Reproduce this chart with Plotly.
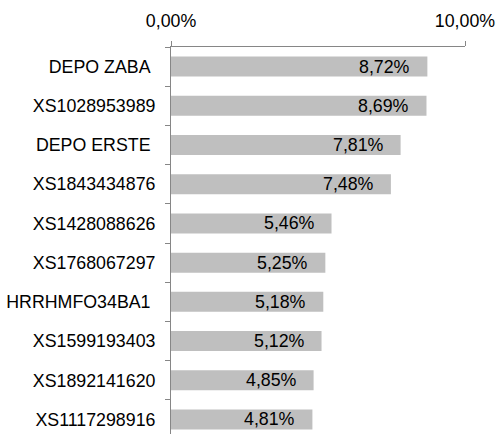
import plotly.graph_objects as go

categories = ["DEPO ZABA", "XS1028953989", "DEPO ERSTE", "XS1843434876", "XS1428088626",
              "XS1768067297", "HRRHMFO34BA1", "XS1599193403", "XS1892141620", "XS1117298916"]
values = [0.0872, 0.0869, 0.0781, 0.0748, 0.0546, 0.0525, 0.0518, 0.0512, 0.0485, 0.0481]
labels = ["8,72%", "8,69%", "7,81%", "7,48%", "5,46%", "5,25%", "5,18%", "5,12%", "4,85%", "4,81%"]
# category tick texts (three of them carry a trailing space in the source)
tick_texts = ["DEPO ZABA\u00a0", "XS1028953989", "DEPO ERSTE\u00a0", "XS1843434876", "XS1428088626",
              "XS1768067297", "HRRHMFO34BA1\u00a0", "XS1599193403", "XS1892141620", "XS1117298916"]
x_ticks = [0.0, 0.1]

FONT = "Liberation Sans, Arial, sans-serif"
FS = 17.8

fig = go.Figure()
fig.add_trace(go.Bar(
    y=categories, x=values, orientation="h",
    marker=dict(color="#bfbfbf", line=dict(width=0)),
    hoverinfo="skip",
))

for c, v, t in zip(categories, values, labels):
    fig.add_annotation(x=v, y=c, text=t, showarrow=False, xanchor="right",
                       xshift=-15, font=dict(family=FONT, size=FS, color="#000000"))

fig.update_layout(
    template="none",
    width=497, height=434,
    margin=dict(l=171, r=32, t=47, b=0, pad=0),
    paper_bgcolor="white", plot_bgcolor="white",
    separators=",.",
    bargap=0.49,
    showlegend=False,
    font=dict(family=FONT, size=FS, color="#000000"),
    xaxis=dict(side="top", range=[0, 0.1], tickvals=x_ticks, tickformat=".2%",
               automargin=False,
               showgrid=False, zeroline=False, showline=True, linecolor="#868686",
               linewidth=1, ticks="outside", ticklen=5, tickcolor="#868686",
               ticklabelstandoff=7),
    yaxis=dict(type="category", categoryorder="array", categoryarray=categories,
               tickmode="array", tickvals=categories, ticktext=tick_texts,
               automargin=False,
               range=[9.37, -0.5], showgrid=False, zeroline=False, showline=True,
               linecolor="#868686", linewidth=1, ticks="outside", ticklen=5,
               tickcolor="#868686", tickson="boundaries", ticklabelstandoff=11),
)

fig.write_html("out.html", config={"displayModeBar": False},
               post_script="document.body.style.margin='0';document.body.style.overflow='hidden';")
